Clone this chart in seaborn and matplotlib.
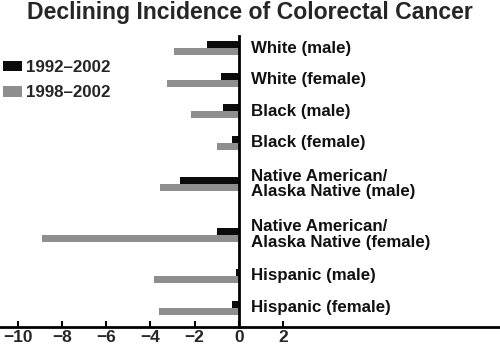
import numpy as np
import pandas as pd
import matplotlib
matplotlib.use("Agg")
import matplotlib.pyplot as plt
import seaborn as sns

# Average annual percent change in colorectal cancer incidence
groups = [
    "White (male)",
    "White (female)",
    "Black (male)",
    "Black (female)",
    "Native American/\nAlaska Native (male)",
    "Native American/\nAlaska Native (female)",
    "Hispanic (male)",
    "Hispanic (female)",
]
periods = ["1992\u20132002", "1998\u20132002"]
change_1992_2002 = [-1.45, -0.80, -0.72, -0.29, -2.64, -0.97, -0.14, -0.32]
change_1998_2002 = [-2.93, -3.23, -2.16, -0.97, -3.56, -8.91, -3.82, -3.59]
x_ticks = [-10, -8, -6, -4, -2, 0, 2]

sns.set_theme(style="white")
plt.rcParams["font.family"] = ["Liberation Sans", "DejaVu Sans"]
plt.rcParams["font.weight"] = "bold"

# Rows with two-line labels get a little more vertical room
n_lines = [g.count("\n") + 1 for g in groups]
pos = [0.0]
for a, b in zip(n_lines[:-1], n_lines[1:]):
    pos.append(pos[-1] + 1 + 0.3 * ((a - 1) + (b - 1)))

df = pd.DataFrame({
    "row": pos * 2,
    "change": change_1992_2002 + change_1998_2002,
    "period": [periods[0]] * len(groups) + [periods[1]] * len(groups),
})

fig = plt.figure(figsize=(5.0, 3.46), dpi=100)
ax = fig.add_axes([0.0, 0.0535, 1.0, 0.8425])

sns.barplot(
    data=df, x="change", y="row", hue="period", orient="y",
    native_scale=True, width=0.44, dodge=True,
    palette=["#0b0b0b", "#8e8e8e"], saturation=1, errorbar=None,
    linewidth=0, ax=ax,
)

ax.set_xlim(-10.8, 11.82)
ax.set_ylim(pos[-1] + 0.63, -0.38)

for p, g in zip(pos, groups):
    ax.annotate(g, xy=(0, p), xytext=(9, 0), textcoords="offset points",
                ha="left", va="center", fontsize=12.2, fontweight="bold",
                color="#111111", linespacing=1.05)

for s in ["top", "right"]:
    ax.spines[s].set_visible(False)
ax.spines["left"].set_position(("data", 0))
ax.spines["left"].set_linewidth(2)
ax.spines["left"].set_color("black")
ax.spines["bottom"].set_linewidth(2)
ax.spines["bottom"].set_color("black")

ax.set_xticks(x_ticks)
ax.set_xticklabels([f"{t}".replace("-", "\u2212") for t in x_ticks],
                   fontsize=12.5, fontweight="bold")
ax.tick_params(axis="x", direction="in", length=4.5, width=1.5,
               color="black", pad=1.5, bottom=True)
ax.set_yticks([])
ax.set_xlabel("")
ax.set_ylabel("")

handles, labels = ax.get_legend_handles_labels()
ax.legend(handles, labels, loc="upper left", bbox_to_anchor=(0.006, 1 - 60 / 346),
          bbox_transform=fig.transFigure, frameon=False,
          handlelength=1.1, handleheight=0.6, handletextpad=0.25,
          labelspacing=0.6, borderaxespad=0, borderpad=0,
          prop={"weight": "bold", "size": 12.2})

fig.text(0.5, 1 - 13 / 346, "Declining Incidence of Colorectal Cancer",
         ha="center", va="center", fontsize=16.6, fontweight="bold")

fig.savefig("out.png", dpi=100)
